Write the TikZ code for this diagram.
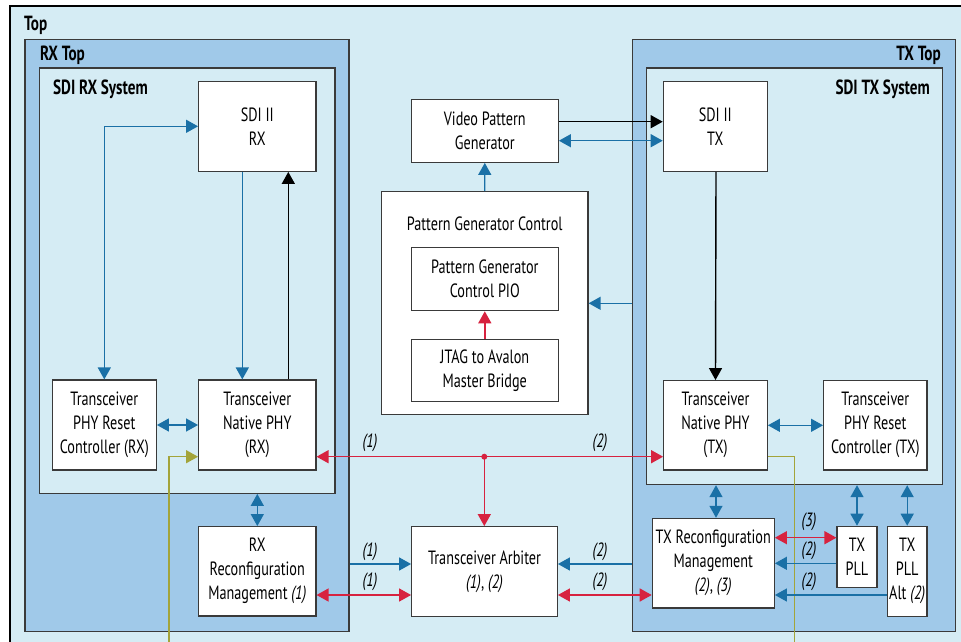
\documentclass[tikz,border=0pt]{standalone}
\usepackage{fontspec}
\setmainfont{PT Sans}[FakeStretch=0.74]
\usetikzlibrary{arrows.meta}
\definecolor{topbg}{HTML}{D5ECF4}
\definecolor{midbg}{HTML}{A0C9E9}
\definecolor{lnblue}{HTML}{1A70A6}
\definecolor{lnred}{HTML}{D7223F}
\definecolor{lnolive}{HTML}{A3A43A}
\definecolor{edge}{HTML}{3A3A3A}
\begin{document}
\begin{tikzpicture}[x=1pt,y=-1pt,
  font=\fontsize{19.2}{24}\selectfont,
  >={Triangle[length=12pt,width=13pt]},
  blk/.style={draw=edge,line width=1.2pt,fill=white,align=center,inner sep=0pt},
  frame/.style={draw=edge,line width=1.2pt,inner sep=0pt,anchor=north west},
  hd/.style={font=\fontsize{20.5}{22}\selectfont\bfseries,inner sep=0pt},
  num/.style={font=\fontsize{19.2}{22}\selectfont\itshape,inner sep=0pt},
  bl/.style={draw=lnblue,line width=1.4pt},
  rd/.style={draw=lnred,line width=1.4pt},
  bk/.style={draw=black,line width=1.4pt},
  ol/.style={draw=lnolive,line width=1.2pt}]
   \useasboundingbox (0,0) rectangle (961,641);
   \clip (0,0) rectangle (961,641);
   \fill[white] (0,0) rectangle (961,641);
   \draw[line width=1.2pt,fill=topbg] (10,6) rectangle (980,660);
   \node[hd,anchor=base west] (toplbl) at (24,30.5) {Top};

   % receive side
   \node[frame,fill=midbg,minimum width=324pt,minimum height=591.7pt] (rxtop) at (24.3,39) {};
   \node[hd,anchor=base west] (rxtoplbl) at (40,60) {RX Top};
   \node[frame,fill=topbg,minimum width=295.6pt,minimum height=425.4pt] (rxsys) at (38.7,67.3) {};
   \node[hd,anchor=base west] (rxsyslbl) at (53,94) {SDI RX System};
   \node[blk,minimum width=117.3pt,minimum height=90pt] (sdirx) at (257.3,126.3) {SDI II\\RX};
   \node[blk,minimum width=104pt,minimum height=90pt] (rxrst) at (104.3,425) {Transceiver\\PHY Reset\\Controller (RX)};
   \node[blk,minimum width=117.3pt,minimum height=90pt] (rxnat) at (257.3,425) {Transceiver\\Native PHY\\(RX)};
   \node[blk,minimum width=117.3pt,minimum height=89.3pt] (rxcfg) at (257.3,571.3) {RX\\Reconfiguration\\Management \textit{(1)}};

   % middle
   \node[blk,minimum width=147pt,minimum height=62.6pt] (vpg) at (484.8,131) {Video Pattern\\Generator};
   \node[blk,minimum width=206.7pt,minimum height=222.6pt] (pgc) at (484.7,303) {};
   \node[inner sep=0pt] (pgclbl) at (484.7,223.5) {Pattern Generator Control};
   \node[blk,minimum width=147pt,minimum height=63pt] (pio) at (484.8,279.2) {Pattern Generator\\Control PIO};
   \node[blk,minimum width=147pt,minimum height=62.4pt] (jtag) at (484.8,370.5) {JTAG to Avalon\\Master Bridge};
   \node[blk,minimum width=145.6pt,minimum height=90pt] (arb) at (484.5,571.7) {Transceiver Arbiter\\\textit{(1)}, \textit{(2)}};

   % transmit side
   \node[frame,fill=midbg,minimum width=323.3pt,minimum height=591.7pt] (txtop) at (631.7,39) {};
   \node[hd,anchor=base east] (txtoplbl) at (941,60) {TX Top};
   \node[frame,fill=topbg,minimum width=296pt,minimum height=416.7pt] (txsys) at (645.7,67.3) {};
   \node[hd,anchor=base east] (txsyslbl) at (930,94) {SDI TX System};
   \node[blk,minimum width=104pt,minimum height=90pt] (sditx) at (715.3,126.3) {SDI II\\TX};
   \node[blk,minimum width=103.6pt,minimum height=89.3pt] (txnat) at (715.5,425.3) {Transceiver\\Native PHY\\(TX)};
   \node[blk,minimum width=103.3pt,minimum height=89.3pt] (txrst) at (875.3,425.3) {Transceiver\\PHY Reset\\Controller (TX)};
   \node[blk,minimum width=122pt,minimum height=89.7pt] (txcfg) at (713.3,563.2) {TX Reconfiguration\\Management\\\textit{(2)}, \textit{(3)}};
   \node[blk,minimum width=40pt,minimum height=61pt] (txpll) at (857,556.8) {TX\\PLL};
   \node[blk,minimum width=39.7pt,minimum height=90pt] (pllalt) at (907.2,571.3) {TX\\PLL\\Alt \textit{(2)}};

   % connectors
   \draw[bl,<->] (rxrst.north) |- (sdirx.west);
   \draw[bl,->] ([xshift=-15pt]sdirx.south) -- ([xshift=-15pt]rxnat.north);
   \draw[bk,->] ([xshift=31pt]rxnat.north) -- ([xshift=31pt]sdirx.south);
   \draw[bl,<->] (rxrst.east) -- (rxnat.west);
   \coordinate (olrx) at (169,660);
   \draw[ol,->] (olrx) |- (rxnat.west |- 0,456.7);
   \draw[bl,<->] (rxsys.south -| rxcfg.north) -- (rxcfg.north);

   \coordinate (jn) at (484.3,456.7);
   \draw[rd,<->] (rxnat.east |- jn) -- (txnat.west |- jn);
   \draw[rd,->] (jn) -- (arb.north -| jn);
   \fill[lnred] (jn) circle (3pt);
   \node[num] (n1) at (370,443) {(1)};
   \node[num] (n2) at (600,443) {(2)};

   \draw[bl,->] (rxtop.east |- 0,564) -- (arb.west |- 0,564);
   \draw[rd,<->] (rxcfg.east |- 0,595) -- (arb.west |- 0,595);
   \draw[bl,->] (txtop.west |- 0,564) -- (arb.east |- 0,564);
   \draw[rd,<->] (arb.east |- 0,595) -- (txcfg.west |- 0,595);
   \node[num] (n3) at (370,551.7) {(1)};
   \node[num] (n4) at (370,581.7) {(1)};
   \node[num] (n5) at (600,551.7) {(2)};
   \node[num] (n6) at (600,581.7) {(2)};

   \draw[bk,->] (vpg.east |- 0,121.7) -- (sditx.west |- 0,121.7);
   \draw[bl,<->] (vpg.east |- 0,140.7) -- (sditx.west |- 0,140.7);
   \draw[bl,->] (pgc.north) -- (vpg.south);
   \draw[rd,->] (jtag.north) -- (pio.south);
   \draw[bl,->] (txtop.west |- 0,303.3) -- (pgc.east |- 0,303.3);

   \draw[bk,->] ([xshift=0.7pt]sditx.south) -- (txnat.north);
   \draw[bl,<->] (txnat.east) -- (txrst.west);
   \coordinate (oltx) at (794.3,660);
   \draw[ol] (txnat.east |- 0,456.7) -| (oltx);
   \draw[bl,<->] (txsys.south -| 716,0) -- (txcfg.north -| 716,0);
   \draw[bl,<->] (txsys.south -| txpll.north) -- (txpll.north);
   \draw[bl,<->] (txsys.south -| pllalt.north) -- (pllalt.north);

   \draw[rd,<->] (txcfg.east |- 0,537.7) -- (txpll.west |- 0,537.7);
   \draw[bl,->] (txpll.west |- 0,563.3) -- (txcfg.east |- 0,563.3);
   \draw[bl,->] (pllalt.west |- 0,595) -- (txcfg.east |- 0,595);
   \node[num] (n7) at (809,521.7) {(3)};
   \node[num] (n8) at (809,550.7) {(2)};
   \node[num] (n9) at (809,581.7) {(2)};
\end{tikzpicture}
\end{document}
